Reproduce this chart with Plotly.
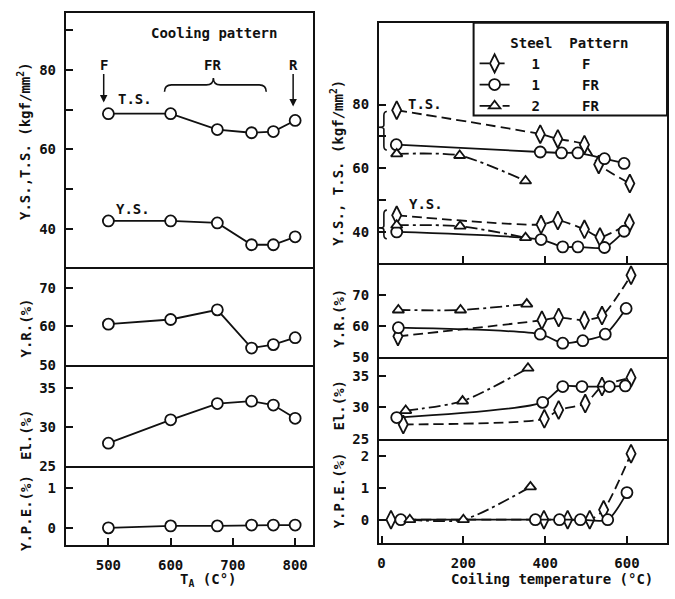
import plotly.graph_objects as go

W, H = 675, 599
FONT = "DejaVu Sans Mono"
INK = "#111111"

# ---------------- data ----------------
# Left: annealing temperature T_A (°C)
ta = [500, 600, 675, 730, 765, 800]
left_ts = [69.0, 69.0, 65.0, 64.2, 64.5, 67.3]
left_ys = [42.0, 42.0, 41.5, 36.0, 36.0, 38.0]
left_yr = [60.6, 61.8, 64.3, 54.4, 55.3, 57.1]
left_el = [27.9, 30.9, 33.0, 33.3, 32.8, 31.1]
left_ype = [0.0, 0.05, 0.05, 0.07, 0.07, 0.07]

# Right: coiling temperature (°C); Steel 1 / pattern F (diamonds)
f1_ts_x = [37, 388, 431, 496, 531, 607]
f1_ts = [78.2, 70.7, 69.2, 67.4, 61.2, 55.2]
f1_ys_x = [37, 390, 431, 496, 534, 606]
f1_ys = [45.2, 42.3, 43.6, 40.8, 38.4, 42.8]
f1_yr_x = [40, 392, 433, 496, 539, 610]
f1_yr = [56.7, 61.9, 62.8, 61.9, 63.4, 76.4]
f1_el_x = [53, 398, 433, 498, 539, 610]
f1_el = [27.3, 28.2, 29.6, 30.6, 33.3, 34.7]
f1_ype_x = [23, 397, 455, 509, 543, 610]
f1_ype = [0.0, 0.0, 0.0, 0.0, 0.31, 2.07]

# Steel 1 / pattern FR (circles)
fr1_ts_x = [36, 388, 440, 480, 545, 593]
fr1_ts = [67.4, 65.1, 64.8, 64.8, 63.0, 61.5]
fr1_ys_x = [37, 390, 443, 480, 545, 593]
fr1_ys = [40.0, 37.6, 35.3, 35.3, 35.1, 40.2]
fr1_yr_x = [41, 388, 443, 492, 547, 598]
fr1_yr = [59.5, 57.4, 54.5, 55.3, 57.4, 65.7]
fr1_el_x = [37, 394, 443, 490, 557, 596]
fr1_el = [28.4, 30.8, 33.3, 33.3, 33.3, 33.4]
fr1_ype_x = [47, 376, 435, 486, 553, 600]
fr1_ype = [0.0, 0.0, 0.0, 0.0, 0.0, 0.85]

# Steel 2 / pattern FR (triangles)
fr2_ts_x = [37, 191, 352]
fr2_ts = [64.5, 64.0, 56.0]
fr2_ys_x = [37, 192, 352]
fr2_ys = [42.1, 41.8, 38.2]
fr2_yr_x = [41, 193, 355]
fr2_yr = [65.2, 65.2, 67.1]
fr2_el_x = [59, 198, 358]
fr2_el = [29.5, 31.0, 36.2]
fr2_ype_x = [69, 200, 364]
fr2_ype = [0.0, 0.0, 1.03]

left_xticks = [500, 600, 700, 800]
right_xticks = [0, 200, 400, 600]


def px(x):
    return x / W


def py(y):
    return 1 - y / H


fig = go.Figure()

# ---------------- axes ----------------
def yaxis(top, bot, rng, vals, anchor, minor=None):
    d = dict(domain=[py(bot), py(top)], range=rng, tickvals=vals,
             ticks="inside", ticklen=7, tickwidth=1.5, tickcolor=INK,
             showline=True, linewidth=2, linecolor=INK, mirror=True,
             showgrid=False, zeroline=False, anchor=anchor, fixedrange=True,
             ticklabelstandoff=5,
             tickfont=dict(family=FONT, size=14, color=INK, weight="bold"))
    if minor is not None:
        d["minor"] = dict(tickvals=minor, ticks="inside", ticklen=7, tickwidth=1.5,
                          tickcolor=INK, showgrid=False)
    return d


def xaxis(l, r, rng, anchor, top=False, vals=None, labels=False):
    d = dict(domain=[px(l), px(r)], range=rng, showline=True, linewidth=2,
             linecolor=INK, mirror=top, showgrid=False, zeroline=False,
             anchor=anchor, fixedrange=True, side="bottom",
             tickfont=dict(family=FONT, size=14, color=INK, weight="bold"))
    if vals is None:
        d.update(ticks="", showticklabels=False)
    else:
        d.update(tickvals=vals, ticks="inside", ticklen=7, tickwidth=1.5,
                 tickcolor=INK, showticklabels=labels, ticklabelstandoff=7)
    return d


LX = (64, 312)
LR = [431.6, 828.8]
RX = (378, 667)
RR = [-6.6, 698]

layout_axes = {}
# left column
lt = [13, 271, 370, 472, 552]
layout_axes["yaxis"] = yaxis(lt[0], lt[1], [30.3, 94.4], [40, 60, 80], "x", minor=[50, 70, 90])
layout_axes["yaxis2"] = yaxis(lt[1], lt[2], [50, 75.3], [50, 60, 70], "x2")
layout_axes["yaxis3"] = yaxis(lt[2], lt[3], [25, 37.95], [25, 30, 35], "x3")
layout_axes["yaxis4"] = yaxis(lt[3], lt[4], [-0.425, 1.575], [0, 1], "x4")
layout_axes["xaxis"] = xaxis(*LX, LR, "y", top=True)
layout_axes["xaxis2"] = xaxis(*LX, LR, "y2")
layout_axes["xaxis3"] = xaxis(*LX, LR, "y3")
layout_axes["xaxis4"] = xaxis(*LX, LR, "y4", vals=left_xticks, labels=True)
# right column
rt = [23, 267, 362, 445, 550]
layout_axes["yaxis5"] = yaxis(rt[0], rt[1], [30.1, 105.7], [40, 60, 80], "x5", minor=[50, 70])
layout_axes["yaxis6"] = yaxis(rt[1], rt[2], [50, 80.2], [50, 60, 70], "x6")
layout_axes["yaxis7"] = yaxis(rt[2], rt[3], [25, 37.94], [25, 30, 35], "x7")
layout_axes["yaxis8"] = yaxis(rt[3], rt[4], [-0.72, 2.53], [0, 1, 2], "x8")
layout_axes["xaxis5"] = xaxis(*RX, RR, "y5", top=True, vals=[200, 400, 600], labels=False)
layout_axes["xaxis6"] = xaxis(*RX, RR, "y6")
layout_axes["xaxis7"] = xaxis(*RX, RR, "y7")
layout_axes["xaxis8"] = xaxis(*RX, RR, "y8", vals=right_xticks, labels=True)

# ---------------- traces ----------------
LW = 1.8


def mk(symbol, size):
    return dict(symbol=symbol, size=size, color="white", line=dict(color=INK, width=LW))


# left panel
for yv, ax in [(left_ts, 1), (left_ys, 1), (left_yr, 2), (left_el, 3), (left_ype, 4)]:
    s = "" if ax == 1 else str(ax)
    fig.add_trace(go.Scatter(x=ta, y=yv, mode="lines+markers", xaxis="x" + s, yaxis="y" + s,
                             line=dict(color=INK, width=LW), marker=mk("circle", 11),
                             showlegend=False, hoverinfo="skip"))

NB = "\u00a0"
series = [
    (NB * 2 + "1" + NB * 5 + "F", "diamond-tall", 13, "10px,5px",
     [(f1_ts_x, f1_ts), (f1_ys_x, f1_ys), (f1_yr_x, f1_yr), (f1_el_x, f1_el), (f1_ype_x, f1_ype)]),
    (NB * 2 + "1" + NB * 5 + "FR", "circle", 11, "solid",
     [(fr1_ts_x, fr1_ts), (fr1_ys_x, fr1_ys), (fr1_yr_x, fr1_yr), (fr1_el_x, fr1_el), (fr1_ype_x, fr1_ype)]),
    (NB * 2 + "2" + NB * 5 + "FR", "triangle-up", 10, "12px,4px,3px,4px",
     [(fr2_ts_x, fr2_ts), (fr2_ys_x, fr2_ys), (fr2_yr_x, fr2_yr), (fr2_el_x, fr2_el), (fr2_ype_x, fr2_ype)]),
]
axes_r = ["5", "5", "6", "7", "8"]
for name, sym, size, dash, panels in series:
    for i, ((xv, yv), ax) in enumerate(zip(panels, axes_r)):
        fig.add_trace(go.Scatter(x=xv, y=yv, mode="lines+markers", xaxis="x" + ax, yaxis="y" + ax,
                                 name=name, legendgroup=name, showlegend=(i == 0),
                                 line=dict(color=INK, width=LW, dash=dash, shape="spline", smoothing=0.7),
                                 marker=mk(sym, size), hoverinfo="skip"))

# ---------------- annotations ----------------
tf = dict(family=FONT, size=14, color=INK, weight="bold")
ann = []


def text(x, y, s, angle=0, size=14):
    ann.append(dict(x=px(x), y=py(y), xref="paper", yref="paper", text=s, showarrow=False,
                    textangle=angle, font=dict(family=FONT, size=size, color=INK, weight="bold"),
                    xanchor="center", yanchor="middle"))


text(213, 33, "Cooling pattern")
text(211, 66, "FR")
text(133, 100, "T.S.")
text(131, 212, "Y.S.")
text(424, 105, "T.S.")
text(425, 207, "Y.S.")
# arrows for F and R
for lbl, hx, hy, ay in [("F", 102, 104, -38), ("R", 292, 108, -42)]:
    ann.append(dict(x=px(hx), y=py(hy), xref="paper", yref="paper", text=lbl, showarrow=True,
                    ax=0, ay=ay, arrowhead=2, arrowsize=1, arrowwidth=1.5, arrowcolor=INK,
                    font=tf))
# axis titles
text(22, 143, "Y.S.,T.S. (kgf/mm<sup>2</sup>)", -90)
text(24, 332, "Y.R.(%)", -90)
text(24, 440, "El.(%)", -90)
text(24, 520, "Y.P.E.(%)", -90)
text(336, 165, "Y.S., T.S. (kgf/mm<sup>2</sup>)", -90)
text(338, 322, "Y.R.(%)", -90)
text(338, 410, "El.(%)", -90)
text(338, 497, "Y.P.E.(%)", -90)
text(207, 588, "T<sub>A</sub> (C°)")
text(552, 587, "Coiling temperature (°C)")

# ---------------- decorative shapes ----------------
def path(points):
    out = []
    for p in points:
        if isinstance(p, str):
            out.append(p)
        else:
            out.append(f"{px(p[0]):.5f},{py(p[1]):.5f}")
    return " ".join(out)


shapes = []
brace = path(["M", (163, 93), "Q", (163, 86), (170, 86), "L", (205, 86), "Q", (212, 86), (212, 79),
              "Q", (212, 86), (219, 86), "L", (258, 86), "Q", (265, 86), (265, 93)])
shapes.append(dict(type="path", path=brace, xref="paper", yref="paper",
                   line=dict(color=INK, width=1.6)))
for top, mid, bot in [(113, 129, 152), (213, 231, 242)]:
    p = path(["M", (386, top), "Q", (383, top), (383, top + 4), "L", (383, mid - 2), "Q", (383, mid), (378, mid),
              "Q", (383, mid), (383, mid + 2), "L", (383, bot - 4), "Q", (383, bot), (386, bot)])
    shapes.append(dict(type="path", path=p, xref="paper", yref="paper",
                       line=dict(color=INK, width=1.6)))
# legend box
shapes.append(dict(type="rect", xref="paper", yref="paper", x0=px(473), x1=px(667),
                   y0=py(117), y1=py(23), line=dict(color=INK, width=2), fillcolor="white",
                   layer="below"))

fig.update_layout(
    width=W, height=H, margin=dict(l=0, r=0, t=0, b=0),
    paper_bgcolor="white", plot_bgcolor="rgba(0,0,0,0)",
    annotations=ann, shapes=shapes, showlegend=True,
    legend=dict(x=px(474), y=py(30), xanchor="left", yanchor="top",
                bgcolor="rgba(0,0,0,0)", borderwidth=0,
                font=dict(family=FONT, size=14, color=INK, weight="bold"),
                title=dict(text=NB * 4 + "Steel" + NB * 2 + "Pattern",
                           font=dict(family=FONT, size=14, color=INK, weight="bold")),
                tracegroupgap=0, itemclick=False, itemdoubleclick=False),
    **layout_axes,
)

fig.write_html("out.html", config={"displayModeBar": False},
               post_script="document.body.style.margin='0';document.body.style.overflow='hidden';")
